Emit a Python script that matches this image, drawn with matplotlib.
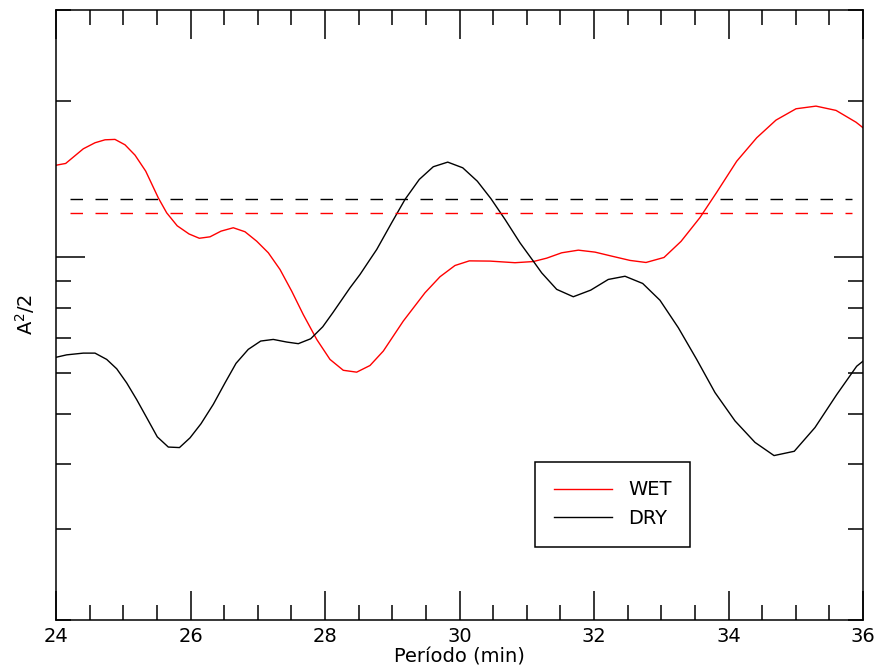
import matplotlib
matplotlib.use("Agg")
import matplotlib.pyplot as plt
from matplotlib.ticker import MultipleLocator, LogLocator, NullFormatter

# ---- data ----
wet_x = [24.000, 24.144, 24.406, 24.580, 24.729, 24.877, 25.026, 25.175, 25.334,
         25.521, 25.646, 25.802, 25.978, 26.131, 26.290, 26.454, 26.636, 26.810,
         26.984, 27.157, 27.331, 27.505, 27.677, 27.877, 28.074, 28.272, 28.471,
         28.669, 28.867, 29.164, 29.487, 29.710, 29.933, 30.146, 30.454, 30.825,
         31.097, 31.297, 31.520, 31.767, 32.015, 32.263, 32.535, 32.773, 33.041,
         33.294, 33.576, 33.824, 34.122, 34.419, 34.706, 35.004, 35.301, 35.599,
         35.896, 36.000]
wet_y = [15.06, 15.18, 16.20, 16.64, 16.86, 16.89, 16.49, 15.75, 14.67,
         13.03, 12.19, 11.51, 11.10, 10.89, 10.96, 11.24, 11.41, 11.21,
         10.75, 10.21, 9.48, 8.61, 7.76, 6.95, 6.36, 6.06, 6.01,
         6.19, 6.60, 7.54, 8.55, 9.18, 9.65, 9.85, 9.84, 9.77,
         9.82, 9.97, 10.21, 10.33, 10.24, 10.06, 9.87, 9.78, 10.00,
         10.74, 11.94, 13.35, 15.33, 17.01, 18.40, 19.35, 19.58, 19.21,
         18.23, 17.79]

dry_x = [24.000, 24.159, 24.406, 24.580, 24.754, 24.903, 25.051, 25.200, 25.349,
         25.506, 25.670, 25.836, 25.993, 26.156, 26.339, 26.513, 26.677, 26.859,
         27.044, 27.231, 27.430, 27.603, 27.787, 27.966, 28.115, 28.372, 28.520,
         28.669, 28.769, 28.992, 29.190, 29.402, 29.610, 29.825, 30.048, 30.265,
         30.468, 30.677, 30.900, 31.097, 31.222, 31.445, 31.692, 31.951, 32.212,
         32.461, 32.724, 32.981, 33.254, 33.527, 33.799, 34.097, 34.394, 34.677,
         34.978, 35.286, 35.609, 35.906, 36.000]
dry_y = [6.42, 6.49, 6.54, 6.54, 6.36, 6.10, 5.73, 5.32, 4.91,
         4.51, 4.31, 4.30, 4.49, 4.78, 5.21, 5.73, 6.25, 6.65,
         6.90, 6.95, 6.87, 6.82, 6.97, 7.35, 7.82, 8.74, 9.27,
         9.91, 10.36, 11.67, 12.94, 14.14, 14.96, 15.27, 14.89, 14.03,
         12.98, 11.84, 10.67, 9.84, 9.34, 8.68, 8.40, 8.65, 9.07,
         9.20, 8.91, 8.27, 7.32, 6.36, 5.49, 4.84, 4.40, 4.15,
         4.23, 4.70, 5.44, 6.17, 6.31]

mean_x = [24.21, 35.84]
wet_mean = 12.16
dry_mean = 12.99

labels = ["WET", "DRY"]

# ---- figure ----
fig = plt.figure(figsize=(8.76, 6.68), dpi=100)
ax = fig.add_axes([56 / 876, 48 / 668, 807 / 876, 610 / 668])

ax.plot(wet_x, wet_y, color="#ff0000", lw=1.0, label=labels[0])
ax.plot(dry_x, dry_y, color="black", lw=1.0, label=labels[1])
ax.plot(mean_x, [dry_mean, dry_mean], color="black", lw=1.0, dashes=(9, 9))
ax.plot(mean_x, [wet_mean, wet_mean], color="#ff0000", lw=1.0, dashes=(9, 9))

ax.set_yscale("log")
ax.set_xlim(24, 36)
ax.set_ylim(2, 30)

ax.xaxis.set_major_locator(MultipleLocator(2))
ax.xaxis.set_minor_locator(MultipleLocator(0.5))
ax.yaxis.set_major_locator(LogLocator(base=10))
ax.yaxis.set_minor_locator(LogLocator(base=10, subs=[2, 3, 4, 5, 6, 7, 8, 9]))
ax.yaxis.set_major_formatter(NullFormatter())
ax.yaxis.set_minor_formatter(NullFormatter())

ax.tick_params(which="both", direction="in", top=True, right=True,
               labelsize=14, width=1.1, pad=5)
ax.tick_params(which="major", length=21)
ax.tick_params(which="minor", length=11)

for s in ax.spines.values():
    s.set_linewidth(1.1)

ax.set_xlabel("Período (min)", fontsize=14, labelpad=1)
ax.set_ylabel("A$^2$/2", fontsize=14)
ax.yaxis.set_label_coords(-0.024, 0.5)

leg = ax.legend(loc="upper left", bbox_to_anchor=(0.5936, 0.259),
                fontsize=14, frameon=True, fancybox=False, edgecolor="black",
                framealpha=1, handlelength=3.0, borderpad=0.95,
                labelspacing=0.5, handletextpad=0.85, borderaxespad=0)
leg.get_frame().set_linewidth(1.1)

fig.savefig("out.png", dpi=100)
